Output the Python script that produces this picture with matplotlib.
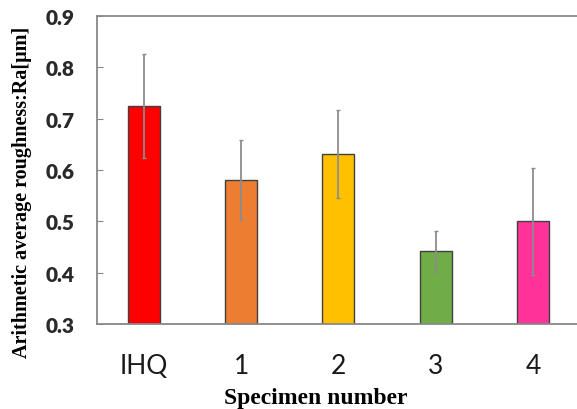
import numpy as np
import matplotlib
matplotlib.use("Agg")
import matplotlib.pyplot as plt

# data
labels = ["IHQ", "1", "2", "3", "4"]
ra_mean = [0.725, 0.580, 0.631, 0.442, 0.500]
ra_err = [0.102, 0.078, 0.086, 0.040, 0.104]
colors = ["#FF0000", "#ED7D31", "#FFC000", "#70AD47", "#FF3399"]

fig = plt.figure(figsize=(5.77, 4.10), dpi=100)
ax = fig.add_axes([0.168, 0.207, 0.832, 0.7515])

x = np.arange(len(labels))
ax.bar(x, ra_mean, width=0.33, color=colors, edgecolor="#404040", linewidth=1.0,
       zorder=2)
ax.errorbar(x, ra_mean, yerr=ra_err, fmt="none", ecolor="#8c8c8c", elinewidth=1.3,
            capsize=1.5, capthick=1.0, zorder=3)

ax.set_ylim(0.3, 0.9)
ax.set_xlim(-0.48, 4.45)
ax.set_yticks([0.3, 0.4, 0.5, 0.6, 0.7, 0.8, 0.9])
ax.set_yticklabels(["0.3", "0.4", "0.5", "0.6", "0.7", "0.8", "0.9"],
                   fontfamily="Lato", fontweight="heavy", fontsize=15, color="#2a2a2a")
ax.set_xticks(x)
ax.set_xticklabels(labels, fontfamily="Lato", fontsize=19, color="#1a1a1a")
ax.tick_params(axis="y", direction="in", length=4, color="#888888", pad=16)
ax.tick_params(axis="x", length=0, pad=21)

for side in ["left", "top", "bottom"]:
    ax.spines[side].set_color("#888888")
    ax.spines[side].set_linewidth(1.3)
ax.spines["right"].set_visible(False)

ax.set_ylabel("Arithmetic average roughness:Ra[\u03bcm]", fontfamily="Liberation Serif",
              fontweight="bold", fontsize=14.5)
ax.yaxis.set_label_coords(-0.135, 0.432)
ax.set_xlabel("Specimen number", fontfamily="Liberation Serif", fontweight="bold",
              fontsize=17)
ax.xaxis.set_label_coords(0.456, -0.205)

fig.savefig("out.png", dpi=100)
